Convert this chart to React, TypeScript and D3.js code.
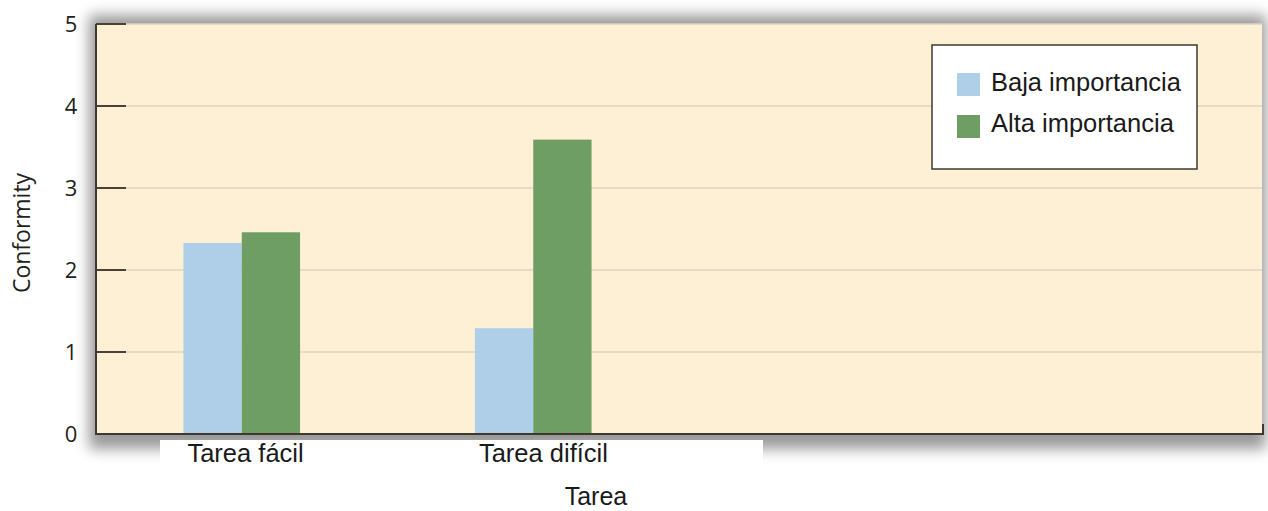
import React from "react";
import * as d3 from "d3";

// Task difficulty categories and the two importance conditions
const categories = ["Tarea fácil", "Tarea difícil"];
const seriesNames = ["Baja importancia", "Alta importancia"];
const bajaValues = [2.33, 1.29];
const altaValues = [2.46, 3.59];
const yTicks = [0, 1, 2, 3, 4, 5];

const seriesColors = ["#AECFE7", "#6F9E64"];

const W = 1268;
const H = 511;
const plot = { left: 96, right: 1262, top: 24, bottom: 434 };

export default function App() {
  const y = d3.scaleLinear().domain([0, 5]).range([plot.bottom, plot.top]);
  const step = (plot.right - plot.left) / 4;
  const x = d3
    .scaleBand<string>()
    .domain(categories)
    .range([plot.left, plot.left + step * 2])
    .paddingInner(0.6)
    .paddingOuter(0.3);
  const xSub = d3.scaleBand<string>().domain(seriesNames).range([0, x.bandwidth()]);

  const rows = categories.map((c, i) => ({
    category: c,
    values: [bajaValues[i], altaValues[i]],
  }));

  const sansLabel = "'Liberation Sans', Arial, sans-serif";
  const sansAxis = "'Open Sans', 'Noto Sans', sans-serif";

  return (
    <svg
      width={W}
      height={H}
      viewBox={`0 0 ${W} ${H}`}
      style={{ position: "absolute", left: 0, top: 0, background: "#ffffff" }}
    >
      <defs>
        <filter id="panelShadow" x="-5%" y="-20%" width="110%" height="140%">
          <feGaussianBlur in="SourceGraphic" stdDeviation="7" />
        </filter>
      </defs>

      {/* soft shadow around the plotting panel */}
      <rect
        x={plot.left - 7}
        y={plot.top - 9}
        width={plot.right - plot.left + 11}
        height={plot.bottom - plot.top + 24}
        fill="#808080"
        opacity={0.8}
        filter="url(#panelShadow)"
      />
      {/* white band behind the category labels */}
      <rect x={160} y={440} width={603} height={32} fill="#ffffff" />

      {/* panel background */}
      <rect
        x={plot.left}
        y={plot.top}
        width={plot.right - plot.left}
        height={plot.bottom - plot.top}
        fill="#FDF0D4"
      />

      {/* gridlines and tick marks */}
      {yTicks.map((t) => (
        <g key={t}>
          {t > 0 && (
            <line
              x1={plot.left + 30}
              x2={plot.right}
              y1={y(t)}
              y2={y(t)}
              stroke="#DCD5C3"
              strokeWidth={1.5}
            />
          )}
          <line
            x1={plot.left}
            x2={plot.left + 30}
            y1={y(t)}
            y2={y(t)}
            stroke="#4A4137"
            strokeWidth={2}
          />
          <text
            x={71}
            y={y(t)}
            dy="0.36em"
            textAnchor="middle"
            fontFamily={sansAxis}
            fontSize={22}
            fill="#231f20"
          >
            {t}
          </text>
        </g>
      ))}

      {/* bars */}
      {rows.map((r) => (
        <g key={r.category} transform={`translate(${x(r.category)},0)`}>
          {r.values.map((v, j) => (
            <rect
              key={seriesNames[j]}
              x={xSub(seriesNames[j])}
              y={y(v)}
              width={xSub.bandwidth()}
              height={y(0) - y(v)}
              fill={seriesColors[j]}
            />
          ))}
        </g>
      ))}

      {/* axis lines */}
      <line x1={plot.left} x2={plot.left} y1={plot.top} y2={plot.bottom + 1} stroke="#3E3830" strokeWidth={2} />
      <line x1={plot.left - 1} x2={plot.right + 1} y1={plot.bottom} y2={plot.bottom} stroke="#3E3830" strokeWidth={2} />
      <line x1={plot.right + 1} x2={plot.right + 1} y1={plot.bottom - 10} y2={plot.bottom + 1} stroke="#3E3830" strokeWidth={2} />

      {/* category labels */}
      {categories.map((c) => (
        <text
          key={c}
          x={(x(c) ?? 0) + 4}
          y={462}
          fontFamily={sansLabel}
          fontSize={25.5}
          fill="#1a1a1a"
        >
          {c}
        </text>
      ))}

      {/* axis titles */}
      <text x={596} y={505} textAnchor="middle" fontFamily={sansLabel} fontSize={25} fill="#1a1a1a">
        Tarea
      </text>
      <text
        transform={`translate(30,233) rotate(-90)`}
        textAnchor="middle"
        fontFamily={sansAxis}
        fontSize={23}
        fill="#231f20"
      >
        Conformity
      </text>

      {/* legend */}
      <g>
        <rect x={932} y={45} width={265} height={124} fill="#ffffff" stroke="#3E3830" strokeWidth={1.5} />
        {seriesNames.map((s, i) => (
          <g key={s}>
            <rect x={957} y={73 + i * 42} width={23} height={23} fill={seriesColors[i]} />
            <text x={991} y={91 + i * 41} fontFamily={sansLabel} fontSize={25.5} fill="#1a1a1a">
              {s}
            </text>
          </g>
        ))}
      </g>
    </svg>
  );
}
